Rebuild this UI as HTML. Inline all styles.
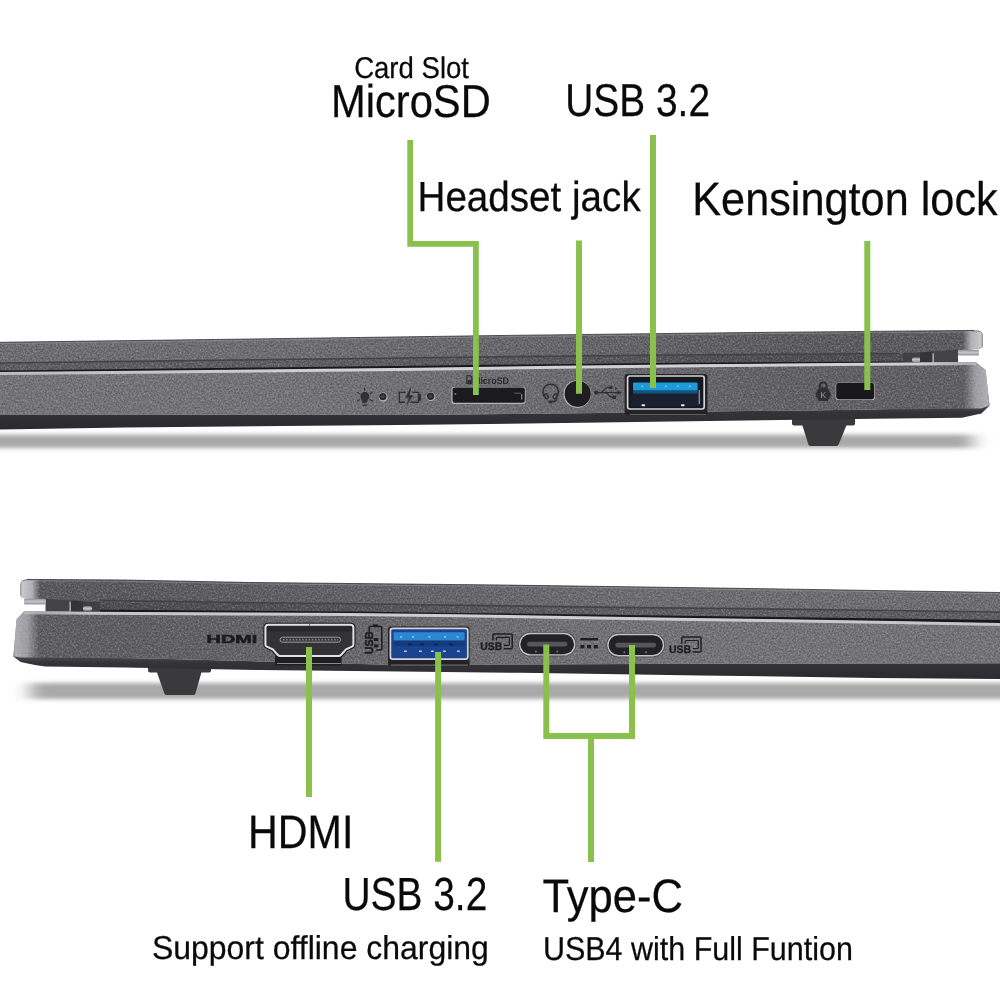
<!DOCTYPE html>
<html lang="en">
<head>
<meta charset="utf-8">
<title>Ports overview</title>
<style>
html,body{margin:0;padding:0;background:#fff;}
body{width:1000px;height:1000px;overflow:hidden;font-family:"Liberation Sans",sans-serif;}
svg{display:block;will-change:transform;}
text{text-rendering:geometricPrecision;}
</style>
</head>
<body>
<svg width="1000" height="1000" viewBox="0 0 1000 1000">
<rect width="1000" height="1000" fill="#ffffff"/>
<defs>
<linearGradient id="endRl" gradientUnits="userSpaceOnUse" x1="963" y1="0" x2="983" y2="0">
 <stop offset="0" stop-color="#c6c6ca" stop-opacity="0"/>
 <stop offset="0.4" stop-color="#c6c6ca" stop-opacity="0.8"/>
 <stop offset="0.9" stop-color="#d4d4d8" stop-opacity="0.92"/>
 <stop offset="1" stop-color="#88888c" stop-opacity="0.8"/>
</linearGradient>
<linearGradient id="endRb" gradientUnits="userSpaceOnUse" x1="964" y1="0" x2="990" y2="0">
 <stop offset="0" stop-color="#c6c6ca" stop-opacity="0"/>
 <stop offset="0.45" stop-color="#c6c6ca" stop-opacity="0.6"/>
 <stop offset="0.9" stop-color="#d0d0d4" stop-opacity="0.7"/>
 <stop offset="1" stop-color="#a0a0a4" stop-opacity="0.7"/>
</linearGradient>
<linearGradient id="endLl" gradientUnits="userSpaceOnUse" x1="40" y1="0" x2="20" y2="0">
 <stop offset="0" stop-color="#c6c6ca" stop-opacity="0"/>
 <stop offset="0.4" stop-color="#c6c6ca" stop-opacity="0.8"/>
 <stop offset="0.9" stop-color="#d4d4d8" stop-opacity="0.92"/>
 <stop offset="1" stop-color="#88888c" stop-opacity="0.8"/>
</linearGradient>
<linearGradient id="endLb" gradientUnits="userSpaceOnUse" x1="39" y1="0" x2="13" y2="0">
 <stop offset="0" stop-color="#c6c6ca" stop-opacity="0"/>
 <stop offset="0.45" stop-color="#c6c6ca" stop-opacity="0.6"/>
 <stop offset="0.9" stop-color="#d0d0d4" stop-opacity="0.7"/>
 <stop offset="1" stop-color="#a0a0a4" stop-opacity="0.7"/>
</linearGradient>
<linearGradient id="darkT" gradientUnits="userSpaceOnUse" x1="0" y1="0" x2="1000" y2="0">
 <stop offset="0.3" stop-color="#000" stop-opacity="0"/>
 <stop offset="0.6" stop-color="#000" stop-opacity="0.08"/>
 <stop offset="0.8" stop-color="#000" stop-opacity="0.16"/>
 <stop offset="1" stop-color="#000" stop-opacity="0.17"/>
</linearGradient>
<linearGradient id="darkB" gradientUnits="userSpaceOnUse" x1="0" y1="0" x2="1000" y2="0">
 <stop offset="0" stop-color="#000" stop-opacity="0.19"/>
 <stop offset="0.15" stop-color="#000" stop-opacity="0.17"/>
 <stop offset="0.4" stop-color="#000" stop-opacity="0.09"/>
 <stop offset="0.65" stop-color="#000" stop-opacity="0"/>
</linearGradient>
<linearGradient id="hlT" gradientUnits="userSpaceOnUse" x1="0" y1="0" x2="1000" y2="0">
 <stop offset="0" stop-color="#bcbcc0"/>
 <stop offset="0.35" stop-color="#d2d2d5"/>
 <stop offset="0.92" stop-color="#cecfd2"/>
 <stop offset="0.975" stop-color="#a4a4a8"/>
</linearGradient>
<linearGradient id="hlB" gradientUnits="userSpaceOnUse" x1="0" y1="0" x2="1000" y2="0">
 <stop offset="0.025" stop-color="#a0a0a4"/>
 <stop offset="0.09" stop-color="#c4c4c8"/>
 <stop offset="0.5" stop-color="#d0d0d3"/>
 <stop offset="1" stop-color="#c4c4c8"/>
</linearGradient>
<linearGradient id="bevG" x1="0" y1="0" x2="0" y2="1">
 <stop offset="0" stop-color="#4a4a4f"/>
 <stop offset="0.28" stop-color="#343438"/>
 <stop offset="1" stop-color="#2b2b2f"/>
</linearGradient>
<linearGradient id="cyl" x1="0" y1="0" x2="0" y2="1">
 <stop offset="0" stop-color="#8e8e92"/>
 <stop offset="0.45" stop-color="#c6c6ca"/>
 <stop offset="1" stop-color="#909094"/>
</linearGradient>
<filter id="shBlur" filterUnits="userSpaceOnUse" x="-60" y="400" width="1120" height="330"><feGaussianBlur stdDeviation="9 2.3"/></filter>
<filter id="grain" x="0" y="0" width="100%" height="100%" color-interpolation-filters="sRGB">
 <feTurbulence type="fractalNoise" baseFrequency="0.55" numOctaves="2" seed="7" result="n"/>
 <feColorMatrix in="n" type="matrix" values="0 0 0 0 1  0 0 0 0 1  0 0 0 0 1  0.62 0 0 0 -0.31" result="w"/>
 <feColorMatrix in="n" type="matrix" values="0 0 0 0 0  0 0 0 0 0  0 0 0 0 0  -0.62 0 0 0 0.31" result="k"/>
 <feComposite in="w" in2="SourceAlpha" operator="in" result="w2"/>
 <feComposite in="k" in2="SourceAlpha" operator="in" result="k2"/>
 <feMerge><feMergeNode in="SourceGraphic"/><feMergeNode in="w2"/><feMergeNode in="k2"/></feMerge>
</filter>
</defs>
<defs><clipPath id="clipT"><path d="M0 342.3 L250 339 L500 335.5 L750 332.5 L976 330.4 Q982.6 330.4 982.6 335 L982.6 346 Q982.6 348.4 979 348.6 L970 349.5 L960 350.5 L935 352.5 L900 353.5 L875 353.6 L600 355.5 L400 358 L0 363 Z"/><path d="M0 372.5 L400 368.5 L600 365.6 L875 363 L976 362.5 L985.6 370 L989.5 405.6 L981.2 413.4 L875 409.4 L600 413 L400 415 L0 414.4 Z"/><path d="M0 355 L921 350 L921 364 L0 374 Z"/></clipPath><clipPath id="clipB"><path d="M27 579.4 L125 580 L250 582.5 L500 585 L750 588.5 L1000 592.5 L1000 612 L700 608 L620 607.5 L300 603 L125 602.6 L100 602.4 L70 601.4 L45 599.6 L25 598.2 Q20.5 597.8 20.5 594.4 L20.5 584.4 Q20.5 579.4 27 579.4 Z"/><path d="M24 611.5 L150 612.5 L300 613 L400 614 L520 615.5 L620 617.5 L700 618.5 L875 621 L1000 623.5 L1000 663.2 L700 663.8 L520 664.4 L400 665 L260 661.4 L150 658.4 L20.6 660.4 L13.4 656.4 L16.6 619.4 Z"/><path d="M83 600 L1000 610 L1000 624 L83 613 Z"/></clipPath></defs>
<rect x="-40" y="434.6" width="1013" height="13.4" fill="#a9a9a9" filter="url(#shBlur)"/>
<path d="M792 418 L855 418 L855 423.4 Q855 425.4 852 425.4 L846.4 425.4 L838.6 444.4 Q838 446 836 446 L811 446 Q809 446 808.4 444.4 L802.4 425.4 L795 425.4 Q792 425.4 792 423.4 Z" fill="#3a3a3d"/>
<g filter="url(#grain)">
<polygon points="0.0,359.0 131.6,357.4 263.1,355.7 394.7,354.1 526.3,352.4 657.9,351.1 789.4,350.1 921.0,349.5 921.0,362.8 789.4,363.8 657.9,365.1 526.3,366.7 394.7,368.6 263.1,369.9 131.6,371.2 0.0,372.5" fill="#5e5e62"/>
<path d="M0 342.3 L250 339 L500 335.5 L750 332.5 L976 330.4 Q982.6 330.4 982.6 335 L982.6 346 Q982.6 348.4 979 348.6 L970 349.5 L960 350.5 L935 352.5 L900 353.5 L875 353.6 L600 355.5 L400 358 L0 363 Z" fill="#6d6d72"/>
<path d="M0 372.5 L400 368.5 L600 365.6 L875 363 L976 362.5 L985.6 370 L989.5 405.6 L981.2 413.4 L875 409.4 L600 413 L400 415 L0 414.4 Z" fill="#737378"/>
<path d="M0 342 L1000 330 L1000 414 L0 415 Z" fill="url(#darkT)" clip-path="url(#clipT)"/>
</g>
<path d="M0 342.3 L250 339 L500 335.5 L750 332.5 L974 330.4" fill="none" stroke="#2e2e31" stroke-width="1" opacity="0.75"/>
<path d="M0 343.6 L250 340.3 L500 336.8 L750 333.8 L972 331.8" fill="none" stroke="#9a9a9e" stroke-width="0.9" opacity="0.6"/>
<path d="M960 331.4 L976 331.2 Q982.6 331.2 982.6 335 L982.6 346 Q982.6 348.4 979 348.6 L960 350.5 Z" fill="url(#endRl)"/>
<polygon points="0.0,362.2 128.6,360.6 257.1,359.0 385.7,357.4 514.3,355.8 642.9,354.4 771.4,353.5 900.0,352.7 900.0,354.3 771.4,355.1 642.9,356.0 514.3,357.4 385.7,359.0 257.1,360.6 128.6,362.2 0.0,363.8" fill="#3e3e42" opacity="0.85"/>
<polygon points="0.0,370.5 131.6,369.0 263.1,367.5 394.7,366.1 526.3,364.4 657.9,363.1 789.4,362.1 921.0,361.5 921.0,362.8 789.4,363.8 657.9,365.1 526.3,366.7 394.7,368.6 263.1,369.9 131.6,371.2 0.0,372.5" fill="#19191b"/>
<path d="M903 353 L921 352.4 L921 362.6 L903 362.6 Z" fill="#404044"/>
<rect x="912" y="357.6" width="9.4" height="4.4" rx="1.8" fill="url(#cyl)"/>
<path d="M920 352.6 L958 349.6 L958 362.6 L920 362.6 Z" fill="#444448"/>
<path d="M920 352.6 L932 351.8 L932 362.6 L920 362.6 Z" fill="#343438"/>
<path d="M932.4 353.4 L934 353.2 L934 362.4 L932.4 362.4 Z" fill="#a8a8ac"/>
<rect x="958" y="349.8" width="21" height="5.8" rx="1" fill="url(#cyl)"/>
<polygon points="0.0,372.1 139.4,370.7 278.9,369.3 418.3,367.8 557.7,365.8 697.1,364.3 836.6,363.0 976.0,362.1 976.0,365.1 836.6,366.0 697.1,367.3 557.7,368.8 418.3,370.8 278.9,372.3 139.4,373.7 0.0,375.1" fill="url(#hlT)"/>
<path d="M958 362.7 L976 362.5 L985.6 370 L989.5 405.6 L984 410 L958 410 Z" fill="url(#endRb)"/>
<path d="M0 414.4 L400 415 L600 413 L875 409.4 L981.2 408.4 L989.5 405.6 L981.2 413.6 L962 417.8 L875 418.75 L600 422.5 L400 425 L125 427.5 L0 429.5 Z" fill="url(#bevG)"/>
<rect x="30" y="683" width="1010" height="16" fill="#a9a9a9" filter="url(#shBlur)"/>
<path d="M148 666 L211 666 L211 670.6 Q211 672.6 208 672.6 L201.4 672.6 L195.4 693.4 Q195 695 193 695 L167 695 Q165 695 164.4 693.4 L157 672.6 L151 672.6 Q148 672.6 148 670.6 Z" fill="#3a3a3d"/>
<g filter="url(#grain)">
<polygon points="83.0,595.7 214.0,598.3 345.0,599.6 476.0,601.5 607.0,603.3 738.0,604.5 869.0,606.3 1000.0,608.0 1000.0,623.5 869.0,620.9 738.0,619.0 607.0,617.2 476.0,615.0 345.0,613.5 214.0,612.7 83.0,612.0" fill="#5e5e62"/>
<path d="M27 579.4 L125 580 L250 582.5 L500 585 L750 588.5 L1000 592.5 L1000 612 L700 608 L620 607.5 L300 603 L125 602.6 L100 602.4 L70 601.4 L45 599.6 L25 598.2 Q20.5 597.8 20.5 594.4 L20.5 584.4 Q20.5 579.4 27 579.4 Z" fill="#6d6d72"/>
<path d="M24 611.5 L150 612.5 L300 613 L400 614 L520 615.5 L620 617.5 L700 618.5 L875 621 L1000 623.5 L1000 663.2 L700 663.8 L520 664.4 L400 665 L260 661.4 L150 658.4 L20.6 660.4 L13.4 656.4 L16.6 619.4 Z" fill="#737378"/>
<path d="M0 575 L1000 575 L1000 668 L0 668 Z" fill="url(#darkB)" clip-path="url(#clipB)"/>
</g>
<path d="M27 579.4 L125 580 L250 582.5 L500 585 L750 588.5 L1000 592.5" fill="none" stroke="#2e2e31" stroke-width="1" opacity="0.75"/>
<path d="M29 580.8 L125 581.3 L250 583.8 L500 586.3 L750 589.8 L1000 593.8" fill="none" stroke="#9a9a9e" stroke-width="0.9" opacity="0.6"/>
<path d="M44 580.4 L27 580.2 Q20.5 580.2 20.5 584.4 L20.5 594.4 Q20.5 597.8 25 598.2 L44 599.6 Z" fill="url(#endLl)"/>
<polygon points="100.0,599.6 228.6,601.6 357.1,603.0 485.7,604.8 614.3,606.6 742.9,607.8 871.4,609.5 1000.0,611.2 1000.0,612.8 871.4,611.1 742.9,609.4 614.3,608.2 485.7,606.4 357.1,604.6 228.6,603.2 100.0,601.2" fill="#3e3e42" opacity="0.85"/>
<polygon points="83.0,609.4 214.0,610.4 345.0,611.6 476.0,613.2 607.0,614.8 738.0,616.5 869.0,618.3 1000.0,620.0 1000.0,623.5 869.0,620.9 738.0,619.0 607.0,617.2 476.0,615.0 345.0,613.5 214.0,612.7 83.0,612.0" fill="#19191b"/>
<path d="M83 601.4 L100 602 L100 611.9 L83 611.8 Z" fill="#404044"/>
<rect x="83" y="606.2" width="9" height="4.6" rx="1.8" fill="url(#cyl)"/>
<path d="M45.5 598.8 L83 601.2 L83 611.9 L45.5 611.6 Z" fill="#444448"/>
<path d="M71 600.6 L83 601.2 L83 611.9 L71 611.8 Z" fill="#343438"/>
<path d="M69.4 601.6 L71 601.7 L71 611.6 L69.4 611.6 Z" fill="#a8a8ac"/>
<rect x="24" y="598.8" width="21.5" height="5.8" rx="1" fill="url(#cyl)"/>
<polygon points="24.0,611.2 132.4,612.0 240.9,612.4 349.3,613.1 457.8,614.3 566.2,616.0 674.7,617.8 783.1,619.3 891.6,620.9 1000.0,623.1 1000.0,626.1 891.6,623.9 783.1,622.3 674.7,620.8 566.2,619.0 457.8,617.3 349.3,616.1 240.9,615.4 132.4,615.0 24.0,614.2" fill="url(#hlB)"/>
<path d="M46 611.7 L24 611.5 L16.6 619.4 L13.4 656.4 L18 658.4 L46 658.4 Z" fill="url(#endLb)"/>
<path d="M13.4 656.4 L20.6 657.6 L150 658.4 L260 661.4 L400 665 L520 664.4 L700 663.8 L1000 663.2 L1000 679 L875 678 L700 675.4 L620 674.2 L520 672.8 L400 671.6 L260 670 L125 667.6 L45 666.6 L35 665 L20.6 662 Z" fill="url(#bevG)"/>
<g id="top-ports">
<g fill="#303034" stroke="#303034" stroke-linecap="round"><path d="M364.8 391.8 C362 391.8 360.4 394 360.4 396.3 C360.4 398.3 361.6 399.4 362.2 400.6 L362.6 403.2 L367 402.6 L367.4 400.6 C368 399.4 369.3 398.3 369.3 396.3 C369.3 394 367.6 391.8 364.8 391.8 Z" stroke="none"/><path d="M364.6 387.8 V390.2 M357.4 392.3 L359.4 393.6 M372.2 392.3 L370.2 393.6 M357.4 401 L359.4 399.8 M372.4 401 L370.4 399.8 M363 405.6 L367.2 404.7" stroke-width="1.1" fill="none"/></g>
<circle cx="383.2" cy="397.0" r="4.5" fill="#b9b9bd"/>
<circle cx="382.9" cy="396.6" r="3.7" fill="#2c2c30"/>
<circle cx="382.9" cy="396.6" r="1.6" fill="#44444a"/>
<circle cx="430.90000000000003" cy="396.59999999999997" r="4.5" fill="#b9b9bd"/>
<circle cx="430.6" cy="396.2" r="3.7" fill="#2c2c30"/>
<circle cx="430.6" cy="396.2" r="1.6" fill="#44444a"/>
<g fill="none" stroke="#303034" stroke-width="1.4"><path d="M405.5 392.4 H399.3 V402.3 H405 M412.5 392.4 H418.6 V402.3 H410.5"/><path d="M419 394.6 H420.6 V400.2 H419" fill="#303034" stroke-width="0.8"/><path d="M410.8 387.8 L405.8 397.4 H409.4 L406.8 404.6 L413 395.6 H409.3 Z" fill="#303034" stroke-width="0.5"/></g>
<rect x="451.4" y="387" width="74.2" height="17" rx="2.8" fill="#b4b4b8"/>
<rect x="452.6" y="387.4" width="72.2" height="15.4" rx="2.2" fill="#1b1b1e"/>
<rect x="454.6" y="393.2" width="1.6" height="1.6" fill="#8a8a8e"/>
<rect x="514" y="392.6" width="7" height="1.2" fill="#55555a"/>
<rect x="521" y="394" width="1.4" height="5.6" fill="#77777b"/>
<path d="M466.8 375.6 H470.2 L471.8 377.2 V383.6 H466.8 Z" fill="none" stroke="#303034" stroke-width="1.3" stroke-linejoin="round"/>
<rect x="467.6" y="380" width="3.4" height="3.4" fill="#303034"/>
<text x="473" y="383.7" font-size="9.8" font-weight="bold" textLength="36" lengthAdjust="spacingAndGlyphs" fill="#2a2a2e" font-family="'Liberation Sans', sans-serif">MicroSD</text>
<g fill="none" stroke="#303034" stroke-width="1.5" stroke-linecap="round"><path d="M544.2 396.5 C541 389 545 384.2 550.7 384.2 C556.4 384.2 560.4 389 557.2 396.5"/><ellipse cx="546.3" cy="396.2" rx="1.7" ry="2.6" transform="rotate(-25 546.3 396.2)"/><ellipse cx="555.2" cy="396.2" rx="1.7" ry="2.6" transform="rotate(25 555.2 396.2)"/><path d="M556.6 398.6 C556.4 400.8 554.6 401.6 552.6 401.8"/><ellipse cx="550.4" cy="402" rx="2.2" ry="1.4" fill="#303034" stroke="none"/></g>
<circle cx="577.3" cy="394.1" r="13.8" fill="#bcbcc0"/>
<circle cx="577.7" cy="393.8" r="13.1" fill="#1e1e22"/>
<g fill="#303034" stroke="#303034" stroke-width="1.2" stroke-linecap="round"><circle cx="596.2" cy="392.6" r="2.1" stroke="none"/><path d="M597 392.6 H618.5" fill="none"/><path d="M621.8 392.6 L617.4 390.4 V394.8 Z" stroke="none"/><path d="M600.5 392.6 C604 392.6 604 387.6 608 387.6 H610" fill="none"/><circle cx="611" cy="387.6" r="1.8" stroke="none"/><path d="M605 392.6 C608.5 392.6 608.5 397.2 612 397.2 H613" fill="none"/><rect x="612.4" y="395.4" width="3.6" height="3.6" stroke="none"/><path d="M615.2 387 L617.6 388.6 L615.2 390.2 Z" stroke="none"/></g>
<rect x="624.6" y="374" width="82.8" height="41.2" rx="2.5" fill="#232327"/>
<rect x="627.6" y="376" width="76.6" height="33" rx="2.2" fill="#15181f" stroke="#d4d4d8" stroke-width="1.7"/>
<rect x="633" y="382.6" width="64.6" height="8.2" rx="1.2" fill="#1c9bd8"/>
<rect x="633" y="390.4" width="64.6" height="3.4" fill="#16527f"/>
<rect x="631" y="393.8" width="70" height="12.8" fill="#1a2030"/>
<rect x="698.6" y="390" width="1.4" height="14" fill="#8a8a90"/>
<rect x="630" y="414" width="76" height="1" fill="#5e5e62"/>
<rect x="641.5" y="385.6" width="1.6" height="1.4" fill="#8fd4f4"/>
<rect x="665" y="385.6" width="1.6" height="1.4" fill="#8fd4f4"/>
<rect x="677" y="385.6" width="1.6" height="1.4" fill="#8fd4f4"/>
<rect x="689" y="385.6" width="1.6" height="1.4" fill="#8fd4f4"/>
<rect x="641.5" y="404.2" width="3.6" height="2" rx="0.8" fill="#e8e8e8"/>
<rect x="681" y="404.2" width="3.6" height="2" rx="0.8" fill="#e8e8e8"/>
<g fill="none" stroke="#303034" stroke-width="1.3"><path d="M819.8 389 V385.8 C819.8 381.4 826.6 381.4 826.6 385.8 V389" stroke-width="1.9"/><path d="M819.4 388.2 H827 L830.4 394.6 L827 400.4 H819.4 L816 394.6 Z" fill="#303034" stroke-linejoin="round"/></g>
<text x="820.2" y="398.2" font-size="8.4" textLength="6" lengthAdjust="spacingAndGlyphs" fill="#9c9ca0" font-family="'Liberation Sans', sans-serif">K</text>
<rect x="835.6" y="382.8" width="39.4" height="17.2" rx="2.8" fill="#aeaeb2"/>
<rect x="836.2" y="383" width="38" height="16.2" rx="2.4" fill="#19191c"/>
</g>
<g id="bottom-ports">
<text x="206.6" y="642.6" font-size="11.6" font-weight="bold" textLength="50.6" lengthAdjust="spacingAndGlyphs" fill="#1c1c1f" stroke="#1c1c1f" stroke-width="0.5" font-family="'Liberation Sans', sans-serif">HDMI</text>
<path d="M275 656 H341.5 V665.4 H275 Z" fill="#1f1f22"/>
<rect x="277" y="663" width="64" height="1" fill="#8a8a8e"/>
<path d="M268.4 624.8 H350.4 Q353.4 624.8 353.4 627.8 V644.4 Q353.4 646 352 646.6 L346 649.4 L341 655 Q340 656 338.6 656 H280.2 Q278.8 656 277.8 655 L272.8 649.4 L266.8 646.6 Q265.4 646 265.4 644.4 V627.8 Q265.4 624.8 268.4 624.8 Z" fill="none" stroke="#1b1b1d" stroke-width="4.2" stroke-linejoin="round"/>
<path d="M268.4 624.8 H350.4 Q353.4 624.8 353.4 627.8 V644.4 Q353.4 646 352 646.6 L346 649.4 L341 655 Q340 656 338.6 656 H280.2 Q278.8 656 277.8 655 L272.8 649.4 L266.8 646.6 Q265.4 646 265.4 644.4 V627.8 Q265.4 624.8 268.4 624.8 Z" fill="#333336" stroke="#e2e2e4" stroke-width="2" stroke-linejoin="round"/>
<rect x="267" y="626.4" width="85" height="5" fill="#252528" opacity="0.8"/>
<rect x="280" y="637.2" width="60.6" height="5" rx="2.5" fill="#3a3a3e" stroke="#a4a4a8" stroke-width="0.9"/>
<path d="M283 639.7 H338" stroke="#7c7c80" stroke-width="1.6" stroke-dasharray="1.6 1.6" fill="none"/>
<path d="M309.6 623.6 V626.2" stroke="#55555a" stroke-width="0.9"/>
<g fill="none" stroke="#1f1f23" stroke-width="1.5" stroke-linejoin="round"><path d="M369.2 633 V627.4 Q369.2 626.4 370.2 626.4 H380.8 Q381.8 626.4 381.8 627.4 V649 Q381.8 650 380.8 650 H376"/><path d="M372.8 625.2 H378.2" stroke-width="1.6"/><rect x="373.8" y="638" width="4.6" height="3" fill="#1f1f23" stroke="none"/><rect x="373.8" y="644.4" width="4.6" height="3" fill="#1f1f23" stroke="none"/></g>
<text transform="translate(373 654.2) rotate(-90)" font-size="11.6" font-weight="bold" textLength="22.6" lengthAdjust="spacingAndGlyphs" fill="#1f1f23" stroke="#1f1f23" stroke-width="0.5" font-family="'Liberation Sans', sans-serif">USB</text>
<rect x="388" y="626.4" width="81.6" height="39.8" rx="2.5" fill="#232327"/>
<rect x="390.4" y="628.4" width="77.4" height="30.8" rx="2.4" fill="#1b4490" stroke="#d4d4d8" stroke-width="1.7"/>
<rect x="393.6" y="632.2" width="71" height="8.6" rx="1" fill="#2c86d2"/>
<rect x="393.6" y="640.6" width="71" height="5.6" fill="#143a7e"/>
<rect x="391" y="664.6" width="77" height="1" fill="#7c7c80"/>
<rect x="400" y="636" width="2" height="1.6" fill="#8cc4f0"/>
<rect x="412" y="636" width="2" height="1.6" fill="#8cc4f0"/>
<rect x="428.4" y="636" width="2" height="1.6" fill="#8cc4f0"/>
<rect x="444" y="636" width="2" height="1.6" fill="#8cc4f0"/>
<rect x="456.6" y="636" width="2" height="1.6" fill="#8cc4f0"/>
<rect x="404" y="650.4" width="2.8" height="1.6" rx="0.6" fill="#c9d6ee"/>
<rect x="419" y="650.4" width="2.8" height="1.6" rx="0.6" fill="#c9d6ee"/>
<rect x="431" y="650.4" width="2.8" height="1.6" rx="0.6" fill="#c9d6ee"/>
<rect x="443" y="650.4" width="2.8" height="1.6" rx="0.6" fill="#c9d6ee"/>
<rect x="457" y="650.4" width="2.8" height="1.6" rx="0.6" fill="#c9d6ee"/>
<rect x="408" y="643.6" width="4" height="2" rx="0.8" fill="#12264f"/>
<rect x="420" y="643.6" width="4" height="2" rx="0.8" fill="#12264f"/>
<rect x="434" y="643.6" width="4" height="2" rx="0.8" fill="#12264f"/>
<rect x="449" y="643.6" width="4" height="2" rx="0.8" fill="#12264f"/>
<g transform="translate(0 0)"><g fill="none" stroke="#1f1f23" stroke-width="1.5" stroke-linejoin="round"><path d="M493 640.6 V635 Q493 634 494 634 H511.2 Q512.2 634 512.2 635 V647.8 Q512.2 648.8 511.2 648.8 H503.8"/><path d="M496.4 640.6 V638.2 Q496.4 637.4 497.2 637.4 H508.6 Q509.4 637.4 509.4 638.2 V644.6 Q509.4 645.4 508.6 645.4 H504" stroke-width="1.2"/></g><text x="480.2" y="649.5" font-size="10.9" font-weight="bold" textLength="22" lengthAdjust="spacingAndGlyphs" fill="#1f1f23" stroke="#1f1f23" stroke-width="0.35" font-family="'Liberation Sans', sans-serif">USB</text></g>
<g transform="translate(188.8 3.1)"><g fill="none" stroke="#1f1f23" stroke-width="1.5" stroke-linejoin="round"><path d="M493 640.6 V635 Q493 634 494 634 H511.2 Q512.2 634 512.2 635 V647.8 Q512.2 648.8 511.2 648.8 H503.8"/><path d="M496.4 640.6 V638.2 Q496.4 637.4 497.2 637.4 H508.6 Q509.4 637.4 509.4 638.2 V644.6 Q509.4 645.4 508.6 645.4 H504" stroke-width="1.2"/></g><text x="480.2" y="649.5" font-size="10.9" font-weight="bold" textLength="22" lengthAdjust="spacingAndGlyphs" fill="#1f1f23" stroke="#1f1f23" stroke-width="0.35" font-family="'Liberation Sans', sans-serif">USB</text></g>
<rect x="518.2" y="632.0" width="57.99999999999998" height="24.40000000000007" rx="12.200000000000035" fill="#4a4a4e"/>
<rect x="519" y="632.8" width="56.39999999999998" height="22.800000000000068" rx="11.400000000000034" fill="#c2c2c6"/>
<rect x="520.4" y="634.1999999999999" width="53.59999999999998" height="20.000000000000068" rx="10.000000000000034" fill="#222226"/>
<rect x="527" y="641.8000000000001" width="40.39999999999998" height="4.8" rx="2.4" fill="#55555a"/>
<circle cx="535.9" cy="651.4" r="1" fill="#77777b"/>
<circle cx="557.4" cy="651.4" r="1" fill="#77777b"/>
<rect x="606.4000000000001" y="633.0" width="58.6" height="24.200000000000024" rx="12.100000000000012" fill="#4a4a4e"/>
<rect x="607.2" y="633.8" width="57.0" height="22.600000000000023" rx="11.300000000000011" fill="#c2c2c6"/>
<rect x="608.6" y="635.1999999999999" width="54.2" height="19.800000000000022" rx="9.900000000000011" fill="#222226"/>
<rect x="615.2" y="642.6999999999999" width="41.0" height="4.8" rx="2.4" fill="#55555a"/>
<circle cx="624.3" cy="652.1999999999999" r="1" fill="#77777b"/>
<circle cx="646.0" cy="652.1999999999999" r="1" fill="#77777b"/>
<g fill="#1f1f23"><rect x="580.4" y="638" width="17.6" height="2.4"/><rect x="580.4" y="645" width="4" height="3.4"/><rect x="587" y="645" width="4" height="3.4"/><rect x="593.8" y="645" width="4" height="3.4"/></g>
</g>
<path d="M410.2 140 V243.8 H475.9 V395" fill="none" stroke="#89c14c" stroke-width="5.8"/>
<rect x="576.0" y="240.5" width="6" height="153.25" fill="#89c14c"/>
<rect x="650.0" y="135" width="6" height="253" fill="#89c14c"/>
<rect x="864.3" y="241" width="6" height="149" fill="#89c14c"/>
<rect x="306.0" y="647" width="6" height="150" fill="#89c14c"/>
<rect x="435.1" y="652" width="6" height="209.79999999999995" fill="#89c14c"/>
<path d="M546.3 644.5 V736 H632 V645" fill="none" stroke="#89c14c" stroke-width="6"/>
<rect x="588.0" y="736" width="6" height="126" fill="#89c14c"/>
<g id="labels" stroke="#0a0a0a" stroke-width="0.25">
<text x="354.14" y="78.3" font-size="30" textLength="114.88" lengthAdjust="spacingAndGlyphs" fill="#0a0a0a" font-family="'Liberation Sans', sans-serif" >Card Slot</text>
<text x="331.0" y="117" font-size="46" textLength="159.76" lengthAdjust="spacingAndGlyphs" fill="#0a0a0a" font-family="'Liberation Sans', sans-serif" >MicroSD</text>
<text x="565.28" y="116.2" font-size="46" textLength="144.76" lengthAdjust="spacingAndGlyphs" fill="#0a0a0a" font-family="'Liberation Sans', sans-serif" >USB 3.2</text>
<text x="417.5" y="211" font-size="42" textLength="223.19" lengthAdjust="spacingAndGlyphs" fill="#0a0a0a" font-family="'Liberation Sans', sans-serif" >Headset jack</text>
<text x="692.25" y="214.8" font-size="47" textLength="305.39" lengthAdjust="spacingAndGlyphs" fill="#0a0a0a" font-family="'Liberation Sans', sans-serif" >Kensington lock</text>
<text x="248.0" y="848.4" font-size="47" textLength="105.34" lengthAdjust="spacingAndGlyphs" fill="#0a0a0a" font-family="'Liberation Sans', sans-serif" >HDMI</text>
<text x="342.45" y="910.2" font-size="46.5" textLength="144.83" lengthAdjust="spacingAndGlyphs" fill="#0a0a0a" font-family="'Liberation Sans', sans-serif" >USB 3.2</text>
<text x="151.88" y="958.5" font-size="33" textLength="337.01" lengthAdjust="spacingAndGlyphs" fill="#0a0a0a" font-family="'Liberation Sans', sans-serif" >Support offline charging</text>
<text x="542.54" y="911.6" font-size="47" textLength="140.37" lengthAdjust="spacingAndGlyphs" fill="#0a0a0a" font-family="'Liberation Sans', sans-serif" >Type-C</text>
<text x="542.93" y="959.5" font-size="33" textLength="309.98" lengthAdjust="spacingAndGlyphs" fill="#0a0a0a" font-family="'Liberation Sans', sans-serif" >USB4 with Full Funtion</text>
</g>
</svg>
</body>
</html>
